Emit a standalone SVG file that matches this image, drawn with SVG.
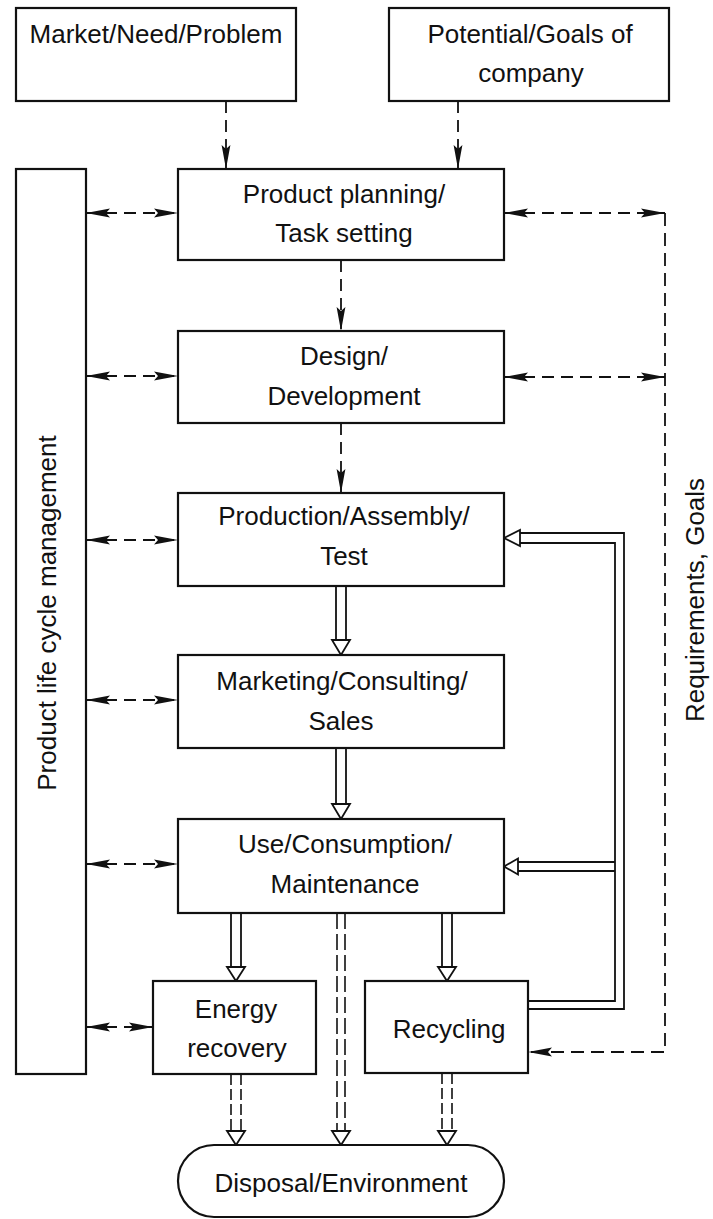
<svg xmlns="http://www.w3.org/2000/svg" width="713" height="1219" viewBox="0 0 713 1219">
  <style>
    .box { fill: #fff; stroke: #111; stroke-width: 2.2; }
    .lbl { font-family: "Liberation Sans", Arial, sans-serif; font-size: 26px; fill: #111; text-anchor: middle; }
    .dash { fill: none; stroke: #111; stroke-width: 1.8; stroke-dasharray: 12 7; }
    .dashv { fill: none; stroke: #111; stroke-width: 1.8; stroke-dasharray: 13 7; }
    .flow { fill: none; stroke: #111; stroke-width: 1.8; }
    .flowd { fill: none; stroke: #111; stroke-width: 1.6; stroke-dasharray: 16 5; }
    .flowd2 { fill: none; stroke: #111; stroke-width: 1.6; stroke-dasharray: 11 4; }
    .head { fill: #fff; stroke: #111; stroke-width: 1.8; stroke-linejoin: miter; }
  </style>
  <defs>
    <marker id="dart" viewBox="0 0 24 10" refX="24" refY="5" markerWidth="24" markerHeight="10" markerUnits="userSpaceOnUse" orient="auto-start-reverse">
      <path d="M0,0.6 L24,5 L0,9.4 L4,5 z" fill="#111"/>
    </marker>
  </defs>
  <rect width="713" height="1219" fill="#fff"/>

  <!-- connectors -->
  <g id="connectors">
    <!-- inputs to planning, and planning chain -->
    <path class="dash" d="M226,101 V169" marker-end="url(#dart)"/>
    <path class="dash" d="M458,101 V169" marker-end="url(#dart)"/>
    <path class="dash" d="M341,260 V331" marker-end="url(#dart)"/>
    <path class="dash" d="M341,423 V493" marker-end="url(#dart)"/>

    <!-- life cycle management links -->
    <path class="dash" d="M86,213 H178" marker-start="url(#dart)" marker-end="url(#dart)"/>
    <path class="dash" d="M86,376 H178" marker-start="url(#dart)" marker-end="url(#dart)"/>
    <path class="dash" d="M86,540 H178" marker-start="url(#dart)" marker-end="url(#dart)"/>
    <path class="dash" d="M86,700 H178" marker-start="url(#dart)" marker-end="url(#dart)"/>
    <path class="dash" d="M86,864 H178" marker-start="url(#dart)" marker-end="url(#dart)"/>
    <path class="dash" d="M86,1027 H153" marker-start="url(#dart)" marker-end="url(#dart)"/>

    <!-- requirements / goals loop -->
    <path class="dash" d="M504,213 H665" marker-start="url(#dart)" marker-end="url(#dart)"/>
    <path class="dash" d="M504,377 H665" marker-start="url(#dart)" marker-end="url(#dart)"/>
    <path class="dashv" d="M665,213 V1052 H528" marker-end="url(#dart)"/>

    <!-- material flow (double lines, hollow heads) -->
    <path class="flow" d="M336,586 V640 M346,586 V640"/>
    <polygon class="head" points="332,640 350,640 341,655"/>
    <path class="flow" d="M336,748 V804 M346,748 V804"/>
    <polygon class="head" points="332,804 350,804 341,819"/>
    <path class="flow" d="M231,913 V967 M241,913 V967"/>
    <polygon class="head" points="227,967 245,967 236,981"/>
    <path class="flow" d="M442,913 V967 M452,913 V967"/>
    <polygon class="head" points="438,967 456,967 447,981"/>

    <!-- flows to disposal -->
    <path class="flowd" d="M337,913 V1131 M345,913 V1131"/>
    <polygon class="head" points="332,1131 350,1131 341,1145"/>
    <path class="flowd2" d="M231,1074 V1131 M241,1074 V1131"/>
    <polygon class="head" points="227,1131 245,1131 236,1145"/>
    <path class="flowd2" d="M442,1073 V1131 M452,1073 V1131"/>
    <polygon class="head" points="438,1131 456,1131 447,1145"/>

    <!-- recycling feedback -->
    <path class="flow" d="M520,533 H624 V1009 H528"/>
    <path class="flow" d="M520,543 H615 V1001 H528"/>
    <path class="flow" d="M518,862 H615 M518,871 H615"/>
    <polygon class="head" points="504,538 520,530 520,546"/>
    <polygon class="head" points="504,866.5 518,858.5 518,874.5"/>
  </g>

  <!-- nodes -->
  <g id="market">
    <rect class="box" x="16" y="8" width="280" height="93"/>
    <text class="lbl" x="156" y="43">Market/Need/Problem</text>
  </g>
  <g id="potential">
    <rect class="box" x="389" y="8" width="280" height="93"/>
    <text class="lbl" x="530" y="43">Potential/Goals of</text>
    <text class="lbl" x="531" y="82">company</text>
  </g>
  <g id="plm">
    <rect class="box" x="16" y="169" width="70" height="905"/>
    <text class="lbl" transform="translate(56,613) rotate(-90)">Product life cycle management</text>
  </g>
  <g id="planning">
    <rect class="box" x="178" y="169" width="326" height="91"/>
    <text class="lbl" x="344" y="203">Product planning/</text>
    <text class="lbl" x="344" y="242">Task setting</text>
  </g>
  <g id="design">
    <rect class="box" x="178" y="331" width="326" height="92"/>
    <text class="lbl" x="344" y="365">Design/</text>
    <text class="lbl" x="344" y="405">Development</text>
  </g>
  <g id="production">
    <rect class="box" x="178" y="493" width="326" height="93"/>
    <text class="lbl" x="344" y="525">Production/Assembly/</text>
    <text class="lbl" x="344" y="565">Test</text>
  </g>
  <g id="marketing">
    <rect class="box" x="178" y="655" width="326" height="93"/>
    <text class="lbl" x="342" y="690">Marketing/Consulting/</text>
    <text class="lbl" x="341" y="730">Sales</text>
  </g>
  <g id="use">
    <rect class="box" x="178" y="819" width="326" height="94"/>
    <text class="lbl" x="345" y="853">Use/Consumption/</text>
    <text class="lbl" x="345" y="893">Maintenance</text>
  </g>
  <g id="energy">
    <rect class="box" x="153" y="981" width="163" height="93"/>
    <text class="lbl" x="236" y="1018">Energy</text>
    <text class="lbl" x="237" y="1057">recovery</text>
  </g>
  <g id="recycling">
    <rect class="box" x="365" y="981" width="163" height="92"/>
    <text class="lbl" x="449" y="1038">Recycling</text>
  </g>
  <g id="disposal">
    <rect class="box" x="178" y="1145" width="326" height="72" rx="36" ry="36"/>
    <text class="lbl" x="341" y="1192">Disposal/Environment</text>
  </g>
  <g id="requirements">
    <text class="lbl" transform="translate(704,600) rotate(-90)">Requirements, Goals</text>
  </g>
</svg>
